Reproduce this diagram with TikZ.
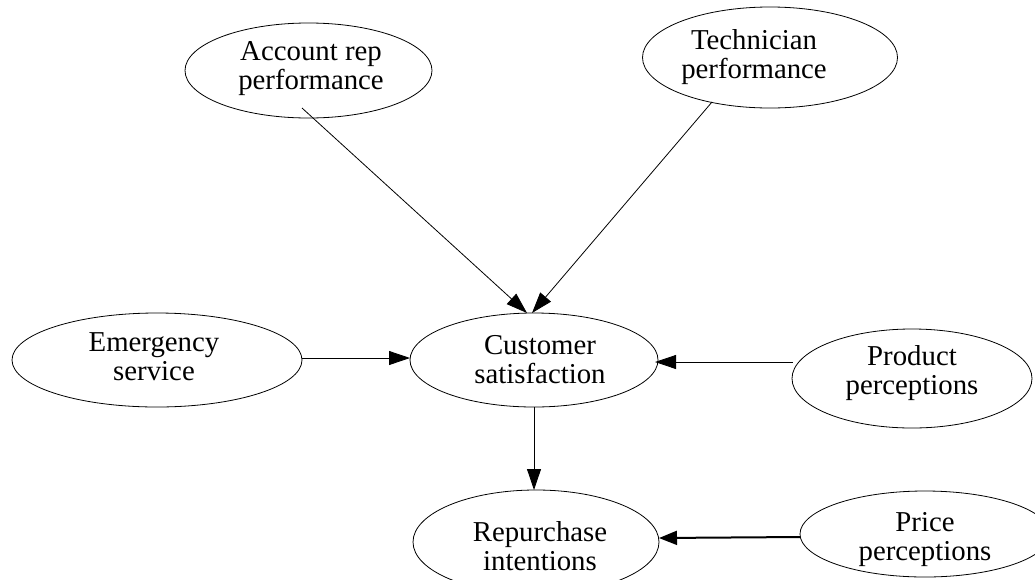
\documentclass[tikz,border=0pt]{standalone}
\usepackage{fontspec}
\setmainfont{Liberation Serif}
\usetikzlibrary{shapes.geometric,arrows.meta,calc}
\begin{document}
\begin{tikzpicture}[x=1pt,y=-1pt,
  oval/.style={draw, ellipse, inner sep=0pt, line width=0.8pt},
  lbl/.style={anchor=north, align=center, inner sep=0pt, font=\fontsize{28.8}{29.5}\selectfont},
  arr/.style={-{Triangle[length=21pt,width=14pt]}, line width=0.8pt},
  thickarr/.style={-{Triangle[length=18pt,width=14pt]}, line width=2pt}]
\useasboundingbox (0,0) rectangle (1035,579);
% ellipses
\node[oval, minimum width=247pt, minimum height=95pt]  (A) at (308.5,70.5) {};
\node[oval, minimum width=255pt, minimum height=101pt] (T) at (770,57.5) {};
\node[oval, minimum width=290pt, minimum height=94pt]  (E) at (157,360) {};
\node[oval, minimum width=248pt, minimum height=94pt]  (C) at (534,360) {};
\node[oval, minimum width=240pt, minimum height=99pt]  (P) at (912,378.5) {};
\node[oval, minimum width=246pt, minimum height=104pt] (R) at (536,542) {};
\node[oval, minimum width=250pt, minimum height=86pt]  (Q) at (925,534) {};
% labels
\node[lbl] (At) at (311,41)  {Account rep\\performance};
\node[lbl] (Tt) at (754,29)  {Technician\\performance};
\node[lbl] (Et) at (154,332) {Emergency\\service};
\node[lbl] (Ct) at (540,335) {Customer\\satisfaction};
\node[lbl] (Pt) at (912,345) {Product\\perceptions};
\node[lbl] (Rt) at (540,521) {Repurchase\\intentions};
\node[lbl] (Qt) at (925,512) {Price\\perceptions};
% connectors
\draw[arr] ($(A)+(-6.5,37.5)$) -- ($(C)+(-7,-47)$);
\draw[arr] ($(T)+(-58,44.5)$) -- ($(C)+(-2,-47)$);
\draw[arr] ($(E)+(145,-2)$) -- ($(C)+(-124,-2)$);
\draw[arr] ($(P)+(-119,-16.5)$) -- ($(C)+(121,2)$);
\draw[arr] ($(C)+(0,47)$) -- ($(R)+(-2,-52)$);
\draw[thickarr] ($(Q)+(-125,3)$) -- ($(R)+(123,-4)$);
\end{tikzpicture}
\end{document}
